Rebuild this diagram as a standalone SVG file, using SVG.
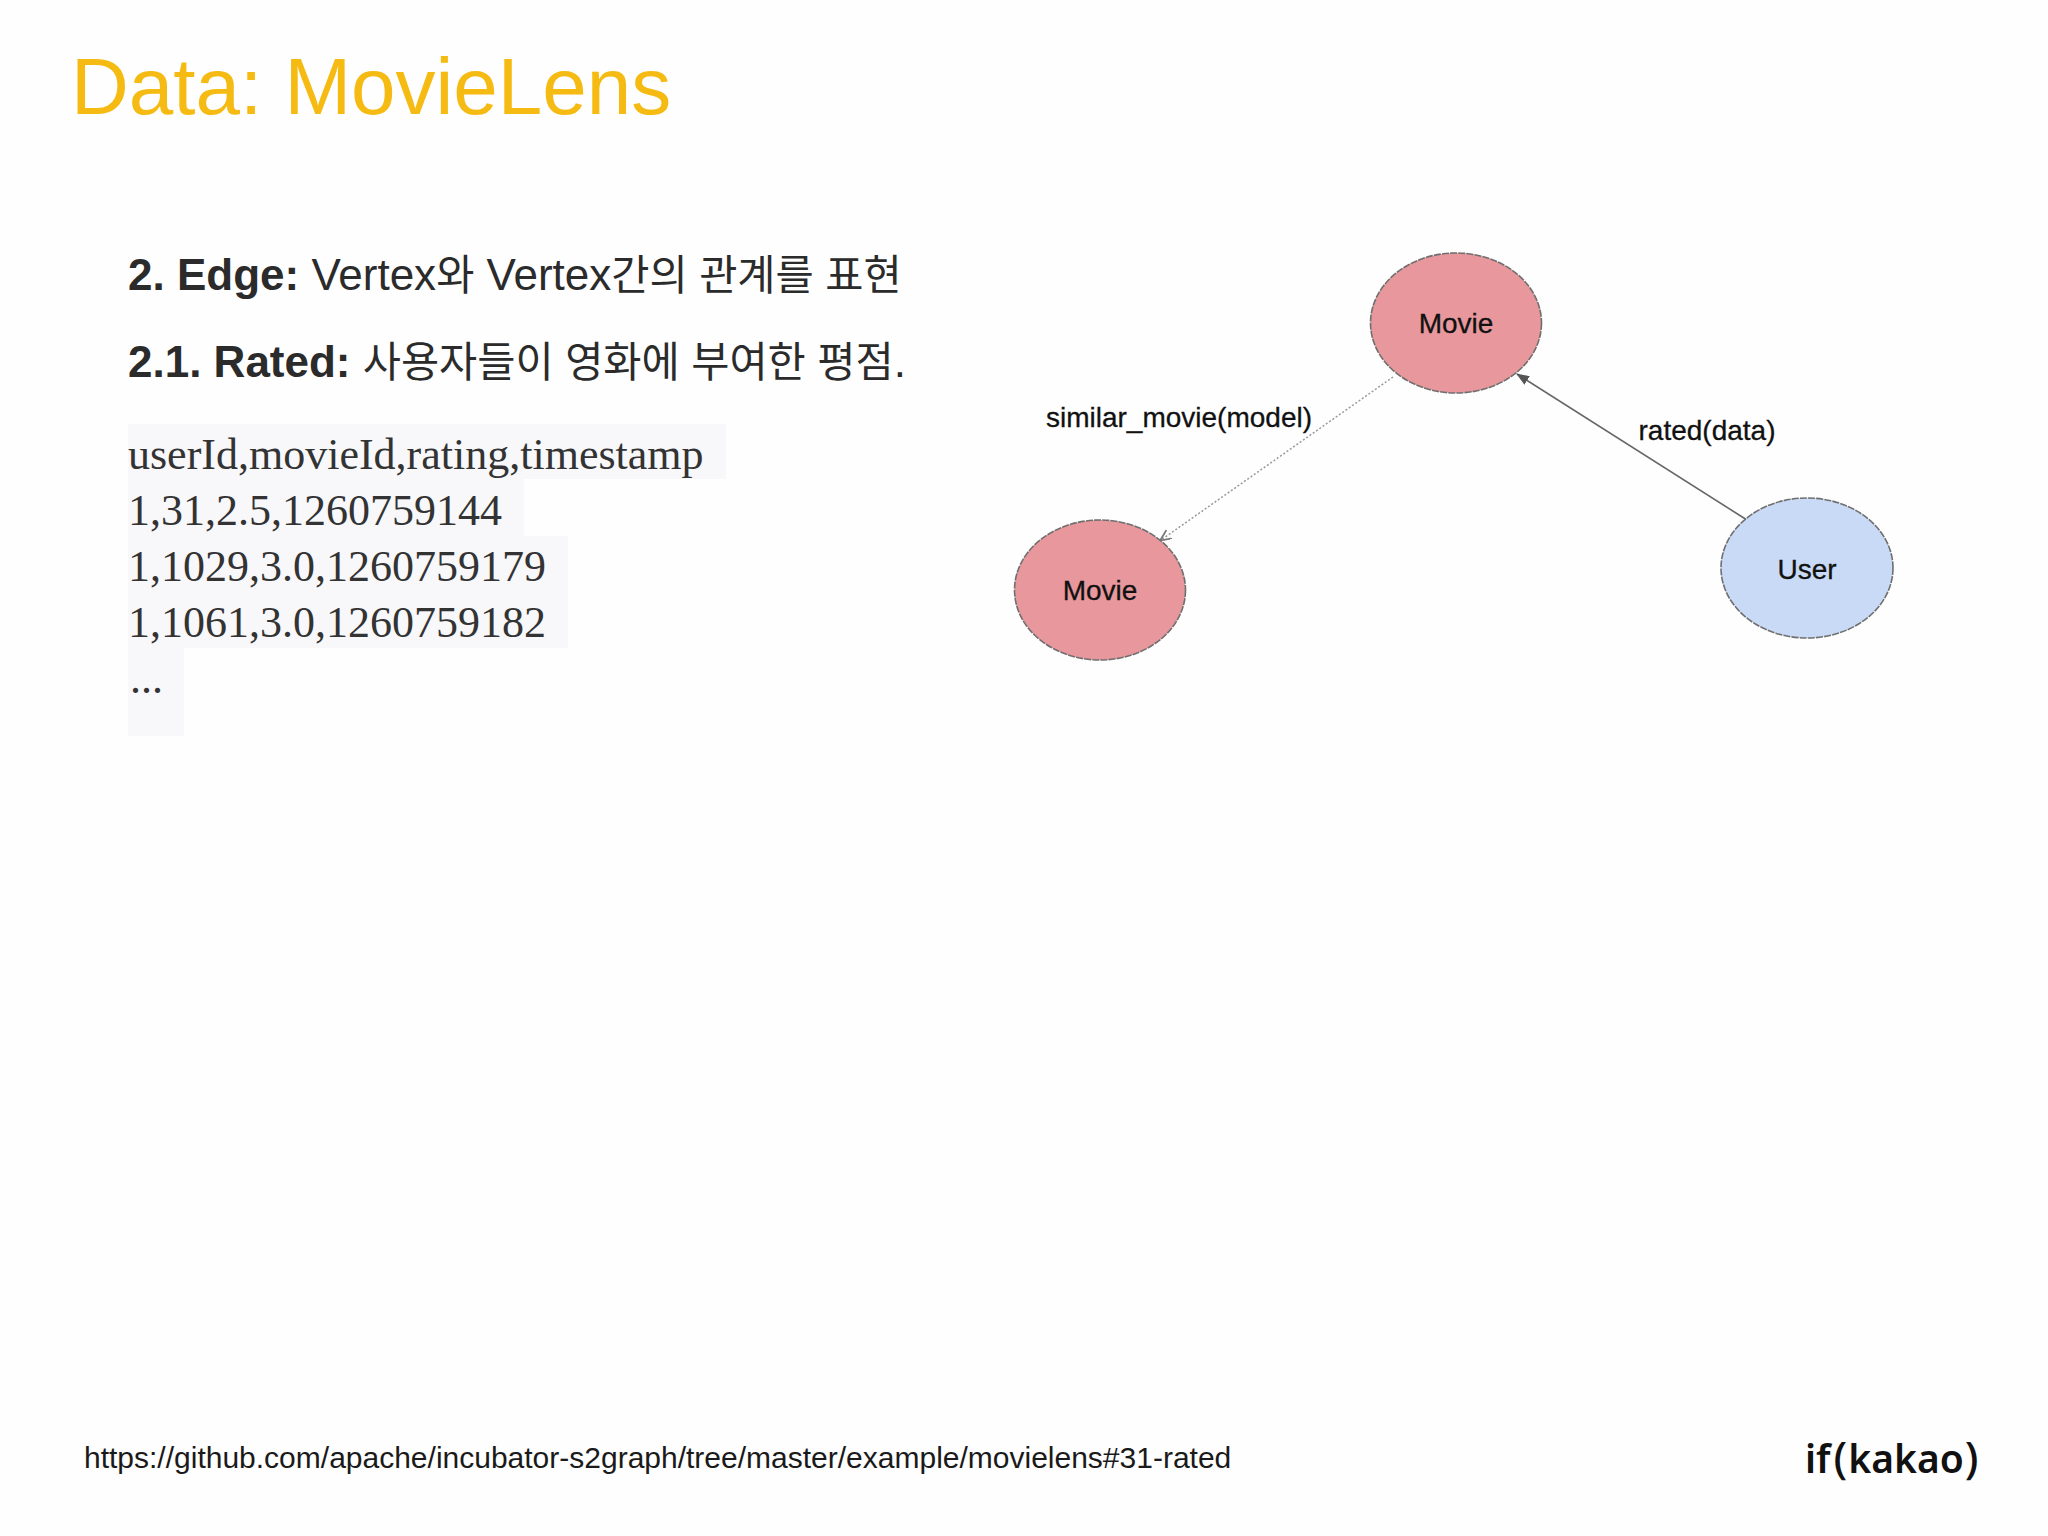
<svg xmlns="http://www.w3.org/2000/svg" width="2048" height="1536" viewBox="0 0 2048 1536">
<defs>
<marker id="arrow" markerWidth="14" markerHeight="12" refX="12" refY="5" orient="auto" markerUnits="userSpaceOnUse"><path d="M0,0 L13,5 L0,10 Z" fill="#555"/></marker>
<marker id="arrow2" markerWidth="14" markerHeight="12" refX="10" refY="5" orient="auto" markerUnits="userSpaceOnUse"><path d="M0,0 L11,5 L0,10" fill="none" stroke="#777" stroke-width="1.8"/></marker>
</defs>
<style>
.s{font-family:"Liberation Sans","Noto Sans CJK KR",Arial,sans-serif}
.b{font-size:44px;fill:#2b2b2b}
.b tspan.h{font-weight:700}
.b tspan.k{font-size:41.5px}
.c{font-family:"Liberation Serif","Times New Roman",serif;font-size:44px;fill:#333}
.n{stroke:#6f6f6f;stroke-width:1.6;stroke-dasharray:7 1.2}
.l{font-family:"Liberation Sans",Arial,sans-serif;font-size:28px;fill:#111;stroke:#111;stroke-width:.3;text-anchor:middle}
.bg{fill:#f8f8fb}
.p{font-weight:500;font-size:44px}
</style>
<rect width="2048" height="1536" fill="#fefefe"/>
<text id="title" class="s" x="71" y="114" font-size="80" fill="#f5bb12">Data: MovieLens</text>
<g id="text">
<text class="s b" x="128" y="290"><tspan class="h">2. Edge:</tspan> Vertex<tspan class="k">와</tspan> Vertex<tspan class="k">간의 관계를 표현</tspan></text>
<text class="s b" x="128" y="377"><tspan class="h">2.1. Rated:</tspan> <tspan class="k">사용자들이 영화에 부여한 평점</tspan>.</text>
</g>
<g id="code">
<rect class="bg" x="128" y="424" width="598" height="55"/>
<rect class="bg" x="128" y="479" width="396" height="57"/>
<rect class="bg" x="128" y="536" width="440" height="112"/>
<rect class="bg" x="128" y="648" width="56" height="88"/>
<text class="c" x="128" y="469">userId,movieId,rating,timestamp</text>
<text class="c" x="128" y="525">1,31,2.5,1260759144</text>
<text class="c" x="128" y="581">1,1029,3.0,1260759179</text>
<text class="c" x="128" y="637">1,1061,3.0,1260759182</text>
<text class="c" x="130" y="693">...</text>
</g>
<g id="connectors">
<line x1="1393" y1="377" x2="1161" y2="540" stroke="#999" stroke-width="1.5" stroke-dasharray="2 2" marker-end="url(#arrow2)"/>
<line x1="1747" y1="520" x2="1517" y2="374" stroke="#666" stroke-width="1.6" marker-end="url(#arrow)"/>
</g>
<g id="node-movie-top"><ellipse class="n" cx="1456" cy="323" rx="85.5" ry="70" fill="#e8979c"/><text class="l" x="1456" y="333">Movie</text></g>
<g id="node-movie-left"><ellipse class="n" cx="1100" cy="590" rx="85.5" ry="70" fill="#e8979c"/><text class="l" x="1100" y="600">Movie</text></g>
<g id="node-user"><ellipse class="n" cx="1807" cy="568" rx="86" ry="70" fill="#c8daf6"/><text class="l" x="1807" y="579">User</text></g>
<g id="edge-labels">
<text class="l" x="1179" y="427">similar_movie(model)</text>
<text class="l" x="1707" y="440">rated(data)</text>
</g>
<text id="source" class="s" x="84" y="1468" font-size="30" fill="#1a1a1a">https://github.com/apache/incubator-s2graph/tree/master/example/movielens#31-rated</text>
<text id="logo" font-family="'Noto Sans','Open Sans',sans-serif" font-weight="600" x="1805" y="1473" font-size="39" fill="#111">if<tspan class="p" dx="3">(</tspan><tspan dx="1">kakao</tspan><tspan class="p" dx="1">)</tspan></text>
</svg>
